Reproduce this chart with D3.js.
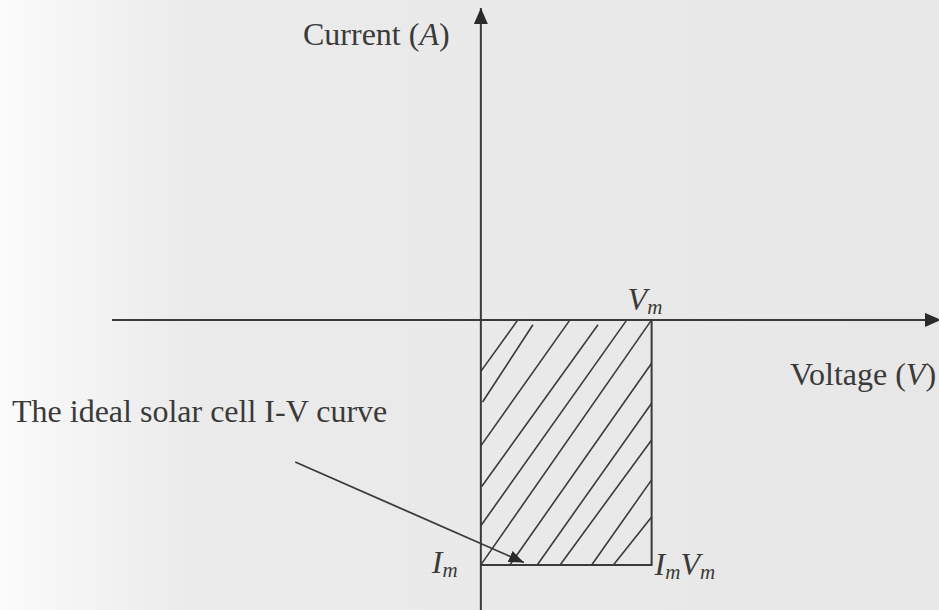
<!DOCTYPE html>
<html>
<head>
<meta charset="utf-8">
<script src="https://cdn.jsdelivr.net/npm/d3@7"></script>
<style>
  html, body { margin: 0; padding: 0; background: #e9e9e9; }
  svg { display: block; }
  text { font-family: "Liberation Serif", "DejaVu Serif", serif; fill: #3a3a3a; }
</style>
</head>
<body>
<svg id="chart" width="939" height="610"></svg>
<script>
// Operating point of the ideal cell (normalised units)
const Vm = 1;
const Im = -1;

// Axis extents (normalised voltage / current)
const voltageExtent = [-2.16, 2.683];
const currentExtent = [-1.184, 1.273];

// Hatching of the power rectangle: [v1, i1, v2, i2] in normalised units
const hatchSegments = [
  [0.217, 0.00, 0.000, -0.210],
  [0.305, -0.02, 0.010, -0.335],
  [0.522, 0.00, 0.000, -0.514],
  [0.686, -0.02, 0.005, -0.680],
  [0.855, 0.00, 0.000, -0.840],
  [1.000, 0.00, 0.000, -1.000],
  [1.000, -0.177, 0.170, -1.000],
  [1.000, -0.340, 0.330, -1.000],
  [1.000, -0.490, 0.464, -1.000],
  [1.000, -0.653, 0.649, -1.000],
  [1.000, -0.804, 0.776, -1.000]
];

// Annotation pointer: from below the caption to the curve corner
const pointerFrom = [-1.087, -0.580];
const pointerTo = [0.252, -0.990];

const axisLabels = { current: "Current", voltage: "Voltage" };
const caption = "The ideal solar cell I-V curve";

const svg = d3.select("#chart");
const W = 939, H = 610;

const x = d3.scaleLinear().domain(voltageExtent).range([112, 939]);
const y = d3.scaleLinear().domain(currentExtent).range([610, 8]);

// Paper background, lighter toward the left margin
const defs = svg.append("defs");
const grad = defs.append("linearGradient").attr("id", "paper")
  .attr("x1", 0).attr("x2", 1).attr("y1", 0).attr("y2", 0);
grad.append("stop").attr("offset", "0").attr("stop-color", "#fbfbfb");
grad.append("stop").attr("offset", "0.06").attr("stop-color", "#f6f6f6");
grad.append("stop").attr("offset", "0.2").attr("stop-color", "#ebebeb");
grad.append("stop").attr("offset", "1").attr("stop-color", "#e7e7e7");
svg.append("rect").attr("width", W).attr("height", H).attr("fill", "url(#paper)");

const ink = "#3a3a3a";

// Arrowhead markers
defs.append("marker").attr("id", "axisHead")
  .attr("viewBox", "0 0 16 14").attr("refX", 16).attr("refY", 7)
  .attr("markerWidth", 16).attr("markerHeight", 14)
  .attr("markerUnits", "userSpaceOnUse").attr("orient", "auto")
  .append("path").attr("d", "M0,0 L16,7 L0,14 Z").attr("fill", "#2a2a2a");

defs.append("marker").attr("id", "pointerHead")
  .attr("viewBox", "0 0 15 12").attr("refX", 15).attr("refY", 6)
  .attr("markerWidth", 15).attr("markerHeight", 12)
  .attr("markerUnits", "userSpaceOnUse").attr("orient", "auto")
  .append("path").attr("d", "M0,0 L15,6 L0,12 Z").attr("fill", "#2a2a2a");

// Hatching inside the maximum-power rectangle
svg.append("g").selectAll("line").data(hatchSegments).join("line")
  .attr("x1", d => x(d[0])).attr("y1", d => y(d[1]))
  .attr("x2", d => x(d[2])).attr("y2", d => y(d[3]))
  .attr("stroke", ink).attr("stroke-width", 1.6);

// Rectangle bounded by Vm and Im
svg.append("path")
  .attr("d", `M${x(0)},${y(Im)} L${x(Vm)},${y(Im)} L${x(Vm)},${y(0)}`)
  .attr("fill", "none").attr("stroke", ink).attr("stroke-width", 2);

// Axes
svg.append("line")
  .attr("x1", x(voltageExtent[0])).attr("y1", y(0))
  .attr("x2", x(voltageExtent[1]) + 2).attr("y2", y(0))
  .attr("stroke", ink).attr("stroke-width", 2)
  .attr("marker-end", "url(#axisHead)");
svg.append("line")
  .attr("x1", x(0)).attr("y1", y(currentExtent[0]))
  .attr("x2", x(0)).attr("y2", y(currentExtent[1]))
  .attr("stroke", ink).attr("stroke-width", 2)
  .attr("marker-end", "url(#axisHead)");

// Pointer to the curve
svg.append("line")
  .attr("x1", x(pointerFrom[0])).attr("y1", y(pointerFrom[1]))
  .attr("x2", x(pointerTo[0])).attr("y2", y(pointerTo[1]))
  .attr("stroke", ink).attr("stroke-width", 1.8)
  .attr("marker-end", "url(#pointerHead)");

// Labels
const fs = 32, sub = 21;

const cur = svg.append("text").attr("x", 303).attr("y", 45).attr("font-size", fs);
cur.append("tspan").text(axisLabels.current + " (");
cur.append("tspan").attr("font-style", "italic").text("A");
cur.append("tspan").text(")");

const vol = svg.append("text").attr("x", 790).attr("y", 385).attr("font-size", fs);
vol.append("tspan").text(axisLabels.voltage + " (");
vol.append("tspan").attr("font-style", "italic").text("V");
vol.append("tspan").text(")");

svg.append("text").attr("x", 12).attr("y", 422).attr("font-size", fs).text(caption);

// Italic symbols with subscripts, e.g. [["I","m"],["V","m"]] -> I_m V_m
function symbol(g, parts) {
  parts.forEach(([main, s], k) => {
    g.append("tspan").attr("font-size", fs).attr("dy", k === 0 ? 0 : -4).text(main);
    g.append("tspan").attr("font-size", sub).attr("dy", 4).text(s);
  });
}

const vmLabel = svg.append("text").attr("x", x(Vm) - 24).attr("y", y(0) - 10)
  .attr("font-size", fs).attr("font-style", "italic");
symbol(vmLabel, [["V", "m"]]);

const imLabel = svg.append("text").attr("x", x(0) - 49).attr("y", y(Im) + 8)
  .attr("font-size", fs).attr("font-style", "italic");
symbol(imLabel, [["I", "m"]]);

const pLabel = svg.append("text").attr("x", x(Vm) + 3).attr("y", y(Im) + 10)
  .attr("font-size", fs).attr("font-style", "italic");
symbol(pLabel, [["I", "m"], ["V", "m"]]);
</script>
</body>
</html>
